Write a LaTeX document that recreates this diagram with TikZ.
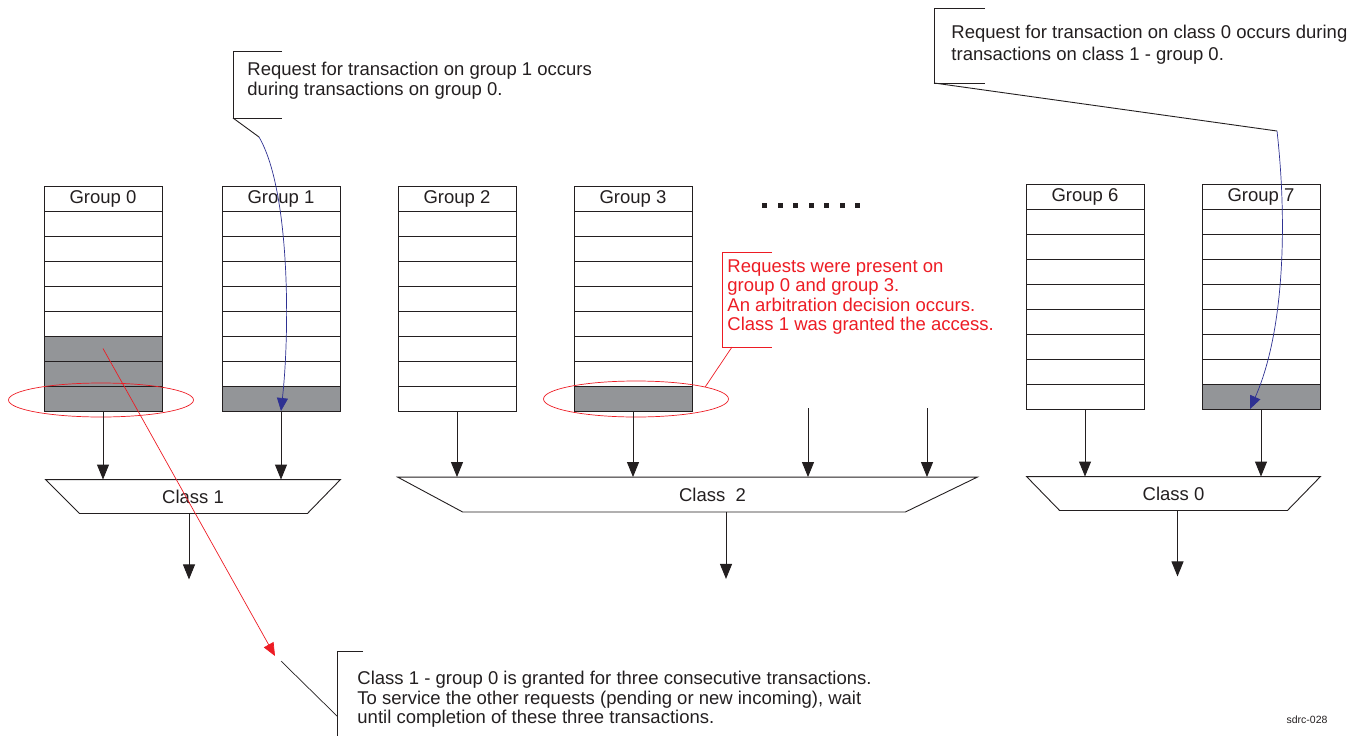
\documentclass[tikz,border=0pt]{standalone}
\usepackage{fontspec}
\setmainfont{Liberation Sans}
\usetikzlibrary{arrows.meta, shapes.geometric}
\definecolor{ink}{RGB}{35,31,32}
\definecolor{notered}{RGB}{237,28,36}
\definecolor{noteblue}{RGB}{46,49,146}
\definecolor{busy}{RGB}{147,149,152}

\begin{document}
\begin{tikzpicture}[x=1pt, y=-1pt, line width=0.9pt, color=ink,
    every node/.style={font=\fontsize{18.5}{19.5}\selectfont},
    cell/.style={draw=ink, minimum width=118, minimum height=25, inner sep=0, outer sep=0},
    arr/.style={-{Triangle[length=15pt, width=12pt]}},
    tip/.style={line width=0.7pt, -{Triangle[length=13pt, width=11pt]}},
    note/.style={align=left, anchor=north west, inner sep=0},
    ring/.style={draw=notered, ellipse, minimum width=185, line width=0.7pt},
    classbox/.style={minimum height=33, inner sep=0}]
    \useasboundingbox (0,0) rectangle (1364,736);

    % queues
    \foreach \g/\x/\y/\s in {0/44/186/3, 1/222/186/1, 2/398/186/0, 3/574/186/1, 6/1026/184/0, 7/1202/184/1} {
        \node[cell, anchor=north west] (g\g) at (\x,\y) {Group \g};
        \foreach \r in {1,...,8} {
            \ifnum\r>\numexpr8-\s\relax \def\cf{busy}\else\def\cf{white}\fi
            \node[cell, fill=\cf, anchor=north] (g\g-\r) at ([yshift={-25*(\r-1)}]g\g.south) {};
        }
    }
    \foreach \i in {0,...,6}
        \fill (762+15.5*\i, 203) rectangle ++(5,5);

    \node[ring, minimum height=34] (ring0) at (101,400) {};
    \node[ring, minimum height=36] (ring3) at (636,399) {};

    % arbiters
    \node[classbox, minimum width=294] (c1) at (193,496.5) {Class 1};
    \draw (c1.north west) -- (c1.north east) -- ([xshift=-33]c1.south east) -- ([xshift=34]c1.south west) -- cycle;
    \node[classbox, minimum width=579, minimum height=34] (c2) at (687.5,494.5) {};
    \node (c2label) at ([xshift=25]c2.center) {Class\ \ 2};
    \draw (c2.north west) -- (c2.north east) -- ([xshift=-72]c2.south east) -- ([xshift=65]c2.south west) -- cycle;
    \node[classbox, minimum width=293] (c0) at (1173.5,493.5) {Class 0};
    \draw (c0.north west) -- (c0.north east) -- ([xshift=-33]c0.south east) -- ([xshift=33]c0.south west) -- cycle;

    \foreach \g/\c in {0/c1, 1/c1, 2/c2, 3/c2, 6/c0, 7/c0}
        \draw[arr] (g\g-8.south) -- (g\g-8.south |- \c.north);
    \coordinate (p4) at (808,408);
    \coordinate (p5) at (927,408);
    \draw[arr] (p4) -- (p4 |- c2.north);
    \draw[arr] (p5) -- (p5 |- c2.north);
    \draw[arr] ([xshift=-4]c1.south) -- ++(0,66);
    \draw[arr] ([xshift=38.5]c2.south) -- ++(0,67);
    \draw[arr] ([xshift=4]c0.south) -- ++(0,66);

    % callouts
    \node[note] (n1) at (247,62) {Request for transaction on group 1 occurs\\during transactions on group 0.};
    \draw (282,51) -- (233,51) -- (233,118) -- (282,118);
    \coordinate (k1) at (259,137);
    \draw (233,118) -- (k1);
    \draw[tip, noteblue] (k1) .. controls (290,190) and (290,330) .. (g1-8.south);

    \node[note, font=\fontsize{18.5}{22}\selectfont] (n2) at (951,25) {Request for transaction on class 0 occurs during\\transactions on class 1 - group 0.};
    \draw (985,8) -- (934,8) -- (934,83) -- (985,83);
    \coordinate (k2) at (1277,131);
    \draw (934,83) -- (k2);
    \draw[tip, noteblue] (k2) .. controls (1287,220) and (1285,330) .. ([xshift=-11]g7-8.south);

    \node[note, text=notered] (n3) at (727,259) {Requests were present on\\group 0 and group 3.\\An arbitration decision occurs.\\Class 1 was granted the access.};
    \draw[notered, line width=0.7pt] (772,252) -- (722,252) -- (722,347) -- (772,347);
    \draw[notered, line width=0.7pt] (732,347) -- (ring3.10);

    \node[note] (n4) at (357,671) {Class 1 - group 0 is granted for three consecutive transactions.\\To service the other requests (pending or new incoming), wait\\until completion of these three transactions.};
    \draw (363,651) -- (337,651) -- (337,736);
    \coordinate (k4) at (281,661);
    \draw[line width=0.7pt] (k4) -- (337,716);
    \coordinate (k5) at (275,656);
    \draw[tip, notered] (g0-6.center) -- (k5);

    \node[font=\fontsize{10.5}{12}\selectfont] (tag) at (1307,720) {sdrc-028};
\end{tikzpicture}
\end{document}
